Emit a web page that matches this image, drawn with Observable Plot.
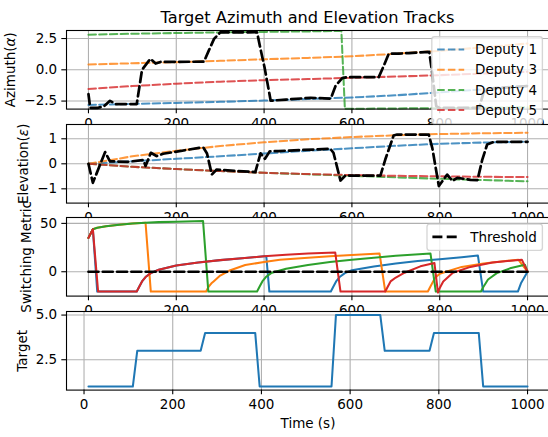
<!DOCTYPE html>
<html><head><meta charset="utf-8">
<script src="https://cdn.jsdelivr.net/npm/d3@7"></script>
<script src="https://cdn.jsdelivr.net/npm/@observablehq/plot@0.6"></script>
<style>
html,body{margin:0;padding:0;background:#fff;}
#fig{position:relative;width:548px;height:437px;overflow:hidden;background:#fff;font-family:"DejaVu Sans",sans-serif;color:#000;}
</style></head><body><div id="fig"></div>
<script>
// ---------------- data ----------------
const deputyNames = ["Deputy 1", "Deputy 3", "Deputy 4", "Deputy 5"];
const xTicks = [0, 200, 400, 600, 800, 1000];

// Azimuth of each deputy (rad)
const depTime = [0, 100, 200, 300, 400, 500, 600, 700, 800, 900, 1000];
const az1 = [-2.81, -2.73, -2.65, -2.56, -2.46, -2.34, -2.21, -2.04, -1.80, -1.55, -1.28];
const az3 = [0.43, 0.52, 0.61, 0.72, 0.84, 0.95, 1.08, 1.28, 1.52, 1.80, 2.10];
const az4Time = [0, 100, 200, 300, 400, 500, 576, 584, 700, 800, 900, 1000];
const az4 = [2.81, 2.88, 2.94, 2.99, 3.03, 3.07, 3.11, -3.12, -3.09, -3.06, -3.03, -2.99];
const az5 = [-1.53, -1.30, -1.11, -0.95, -0.83, -0.74, -0.64, -0.54, -0.43, -0.30, -0.16];
// Azimuth of the tracked target
const tgtAzTime = [0, 4, 20, 35, 49, 62, 110, 122, 141, 153, 164, 263, 274, 286, 300, 384, 391, 401, 415, 450, 506, 552, 563, 578, 589, 661, 673, 684, 707, 730, 776, 782, 792, 800, 890, 900, 912, 1000];
const tgtAz = [-1.94, -3.04, -3.05, -2.92, -2.48, -2.75, -2.74, 0.0, 0.88, 0.5, 0.63, 0.65, 1.53, 2.47, 2.99, 3.0, 1.8, 0.2, -2.47, -2.38, -2.24, -2.3, -1.26, -0.67, -0.59, -0.59, 0.35, 1.29, 1.29, 1.34, 1.43, 0.0, -2.9, -3.05, -3.03, -1.8, -1.5, -1.3];

// Elevation of each deputy (rad)
const el1 = [0, 0.10, 0.20, 0.30, 0.41, 0.52, 0.62, 0.72, 0.80, 0.85, 0.88];
const el3 = [0, 0.30, 0.52, 0.71, 0.86, 0.98, 1.07, 1.14, 1.19, 1.22, 1.24];
const el4 = [0, -0.12, -0.21, -0.29, -0.36, -0.42, -0.48, -0.54, -0.60, -0.65, -0.70];
const el5 = [0, -0.12, -0.21, -0.29, -0.36, -0.41, -0.45, -0.48, -0.50, -0.52, -0.53];
// Elevation of the tracked target
const tgtElTime = [0, 10, 38, 49, 90, 125, 130, 142, 155, 170, 254, 262, 270, 281, 292, 305, 380, 392, 402, 413, 433, 551, 558, 574, 585, 665, 676, 695, 703, 775, 783, 798, 817, 829, 840, 870, 886, 897, 908, 924, 1000];
const tgtEl = [0, -0.76, 0.47, 0.1, 0.08, 0.15, -0.09, 0.44, 0.31, 0.4, 0.64, 0.64, 0.41, -0.43, -0.23, -0.25, -0.33, 0.42, 0.2, 0.5, 0.51, 0.6, 0.44, -0.67, -0.47, -0.47, 0.17, 1.13, 1.17, 1.17, 0.64, -0.89, -0.43, -0.69, -0.56, -0.64, -0.65, 0.17, 0.77, 0.88, 0.88];

// Switching metric per deputy
const sw1T = [0, 10, 20, 110, 115, 122, 130, 142, 160, 200, 250, 300, 350, 400, 405, 412, 552, 557, 564, 572, 584, 600, 650, 700, 750, 800, 850, 887, 899, 978, 985, 1000];
const sw1V = [35, 44, -20.5, -20.5, -16, -10, -5.5, -1.4, 2, 6.5, 9.5, 12, 14, 16, 16, -20.5, -20.5, -16, -10, -5.5, -1.4, 1.5, 5.5, 8.5, 11, 13, 15, 16.7, -20.5, -20.5, -12, 0];
const sw3T = [0, 10, 20, 40, 70, 100, 130, 142, 268, 273, 280, 285, 300, 320, 357, 400, 436, 500, 550, 600, 663, 676, 773, 778, 789, 800, 850, 900, 950, 979, 1000];
const sw3V = [35, 44, 45.5, 47, 48.5, 49.8, 50.7, -20.5, -20.5, -16, -12, -10, -4, 1, 7, 10, 12.5, 14.5, 16, 17.2, 18.8, -20.5, -20.5, -16, -6.6, -2, 5, 8.5, 11, 12.5, 0];
const sw4T = [0, 10, 20, 40, 70, 100, 130, 160, 200, 261, 273, 384, 389, 396, 404, 416, 450, 500, 550, 600, 650, 700, 779, 791, 894, 899, 910, 930, 960, 994, 1000];
const sw4V = [35, 44, 45.5, 47, 48.5, 49.8, 50.7, 51.3, 51.8, 52.4, -20.5, -20.5, -16, -10, -5.5, -1.4, 3, 7, 10, 12.5, 14.5, 16.5, 18.8, -20.5, -20.5, -16, -8, -1.4, 3.5, 7.3, 0];
const sw5T = [0, 10, 22, 110, 115, 122, 130, 142, 160, 200, 250, 300, 350, 400, 450, 500, 562, 574, 676, 681, 688, 700, 720, 756, 788, 796, 801, 808, 830, 870, 920, 987, 1000];
const sw5V = [35, 44, -20.5, -20.5, -16, -10, -5.5, -1.4, 2, 6.5, 9.5, 12, 14, 16, 17.5, 18.8, 20, -20.5, -20.5, -16, -10, -6, -1, 5.6, 9, -21.5, -16, -10, -1, 5, 9.5, 12.5, 0];
const thrT = [0, 1000];
const thrV = [0, 0];

// Target index over time
const tgtT = [10, 110, 120, 263, 273, 386, 396, 558, 568, 668, 678, 779, 789, 890, 900, 1000];
const tgtV = [1, 1, 3, 3, 4, 4, 1, 1, 5, 5, 3, 3, 4, 4, 1, 1];

// ---------------- style / layout ----------------
const C = ["#1f77b4", "#ff7f0e", "#2ca02c", "#d62728"];
const GRID = "#b0b0b0";
const FS = 13.5;
const FH = 78.6;            // frame height of each axes
const MT = 30, MB = 50;     // svg margins around frame
const frameTops = [30, 123.7, 217.4, 311.1];
const DEP_DASH = "7.5,3.2", BLK_DASH = "10,4.3";
const fig = document.getElementById("fig");

const rows = (T, V) => T.map((t, i) => ({t, v: V[i]}));

function italicGreek(svg) {
  svg.querySelectorAll("text").forEach(t => {
    const s = t.textContent; const m = s.match(/[αε]/);
    if (!m || t.children.length) return;
    const i = m.index; t.textContent = "";
    t.appendChild(document.createTextNode(s.slice(0, i)));
    const ts = document.createElementNS("http://www.w3.org/2000/svg", "tspan");
    ts.setAttribute("font-style", "italic"); ts.textContent = s[i]; t.appendChild(ts);
    t.appendChild(document.createTextNode(s.slice(i + 1)));
  });
}

function panel({top, xDomain, yDomain, yTicks, yFormat, ylabel, labelX, content, extra = []}) {
  const svg = Plot.plot({
    width: 548, height: MT + FH + MB,
    marginTop: MT, marginBottom: MB, marginLeft: 66, marginRight: -1,
    style: {background: "transparent", overflow: "visible", fontFamily: "DejaVu Sans", fontSize: FS + "px", color: "black"},
    x: {domain: xDomain},
    y: {domain: yDomain},
    marks: [
      Plot.frame({fill: "white", stroke: "none"}),
      Plot.gridX(xTicks, {stroke: GRID, strokeOpacity: 1, strokeWidth: 1.1}),
      Plot.gridY(yTicks, {stroke: GRID, strokeOpacity: 1, strokeWidth: 1.1}),
      ...content,
      Plot.frame({stroke: "black", strokeWidth: 1.1}),
      Plot.axisX(xTicks, {tickSize: 4.7, tickPadding: 4.7, strokeWidth: 1.1, fontSize: FS, tickFormat: d3.format("d"), label: null}),
      Plot.axisY(yTicks, {tickSize: 4.7, tickPadding: 4.7, strokeWidth: 1.1, fontSize: FS, tickFormat: d3.format(yFormat), label: null}),
      Plot.text([ylabel], {frameAnchor: "left", textAnchor: "middle", lineAnchor: "middle", dx: labelX - 66, rotate: -90, fontSize: FS, fill: "black"}),
      ...extra
    ]
  });
  svg.style.position = "absolute"; svg.style.left = "0px"; svg.style.top = (top - MT) + "px";
  italicGreek(svg);
  fig.appendChild(svg);
  return svg;
}

const depLine = (T, V, i) => Plot.line(rows(T, V), {x: "t", y: "v", stroke: C[i], strokeWidth: 2.03, strokeOpacity: 0.8, strokeDasharray: DEP_DASH});
const blkLine = (T, V) => Plot.line(rows(T, V), {x: "t", y: "v", stroke: "black", strokeWidth: 2.7, strokeDasharray: BLK_DASH});
const solid = (T, V, color) => Plot.line(rows(T, V), {x: "t", y: "v", stroke: color, strokeWidth: 2.03});

// Panel 1: azimuth
panel({
  top: frameTops[0], xDomain: [-50, 1050], yDomain: [-Math.PI, Math.PI], yTicks: [-2.5, 0, 2.5], yFormat: ".1f",
  ylabel: "Azimuth(α)", labelX: 10.5,
  content: [depLine(depTime, az1, 0), depLine(depTime, az3, 1), depLine(az4Time, az4, 2), depLine(depTime, az5, 3), blkLine(tgtAzTime, tgtAz)]
});
// Panel 2: elevation
panel({
  top: frameTops[1], xDomain: [-50, 1050], yDomain: [-Math.PI / 2, Math.PI / 2], yTicks: [-1, 0, 1], yFormat: "d",
  ylabel: "Elevation(ε)", labelX: 23.4,
  content: [depLine(depTime, el1, 0), depLine(depTime, el3, 1), depLine(depTime, el4, 2), depLine(depTime, el5, 3), blkLine(tgtElTime, tgtEl)]
});
// Panel 3: switching metric
const allSw = [...sw1V, ...sw3V, ...sw4V, ...sw5V, ...thrV];
const swLo = d3.min(allSw), swHi = d3.max(allSw), swPad = 0.05 * (swHi - swLo);
panel({
  top: frameTops[2], xDomain: [-50, 1050], yDomain: [swLo - swPad, swHi + swPad], yTicks: [0, 50], yFormat: "d",
  ylabel: "Switching Metric", labelX: 26,
  content: [solid(sw1T, sw1V, C[0]), solid(sw3T, sw3V, C[1]), solid(sw4T, sw4V, C[2]), solid(sw5T, sw5V, C[3]), blkLine(thrT, thrV)]
});
// Panel 4: target
const tMin = d3.min(tgtT), tMax = d3.max(tgtT), tPad = 0.05 * (tMax - tMin);
panel({
  top: frameTops[3], xDomain: [tMin - tPad, tMax + tPad], yDomain: [0.8, 5.2], yTicks: [2.5, 5.0], yFormat: ".1f",
  ylabel: "Target", labelX: 21.8,
  content: [solid(tgtT, tgtV, C[0])],
  extra: [Plot.text(["Time (s)"], {frameAnchor: "bottom", dy: 38, fontSize: FS, fill: "black"})]
});

// ---------------- overlay: title and legends ----------------
const ov = d3.select(fig).append("svg").attr("width", 548).attr("height", 437)
  .style("position", "absolute").style("left", "0px").style("top", "0px")
  .style("font-family", "DejaVu Sans").style("font-size", FS + "px");
ov.append("text").attr("x", 307.5).attr("y", 17).attr("dy", "0.35em").attr("text-anchor", "middle")
  .style("font-size", "16.2px").text("Target Azimuth and Elevation Tracks");

function legend(y, items) {
  const pad = 5.4, hl = 27, gap = 10.8, pitch = 20.2;
  const textW = d3.max(items, d => d.w);
  const width = pad + hl + gap + textW + pad;
  const left = 542.4 - width;
  const height = pad * 2 + 13.5 + pitch * (items.length - 1) + 2;
  const g = ov.append("g");
  g.append("rect").attr("x", left).attr("y", y).attr("width", width).attr("height", height)
    .attr("rx", 2.7).attr("fill", "white").attr("fill-opacity", 0.8)
    .attr("stroke", "#cccccc").attr("stroke-opacity", 0.8).attr("stroke-width", 1.35);
  items.forEach((d, i) => {
    const cy = y + pad + 7.4 + i * pitch;
    g.append("line").attr("x1", left + pad).attr("x2", left + pad + hl).attr("y1", cy).attr("y2", cy)
      .attr("stroke", d.color).attr("stroke-width", d.sw).attr("stroke-opacity", d.op).attr("stroke-dasharray", d.dash);
    g.append("text").attr("x", left + pad + hl + gap).attr("y", cy).attr("dy", "0.35em").text(d.label);
  });
}
legend(36.7, deputyNames.map((n, i) => ({label: n, color: C[i], sw: 2.03, op: 0.8, dash: DEP_DASH, w: 62})));
legend(224.1, [{label: "Threshold", color: "black", sw: 2.7, op: 1, dash: BLK_DASH, w: 66.8}]);
</script></body></html>
